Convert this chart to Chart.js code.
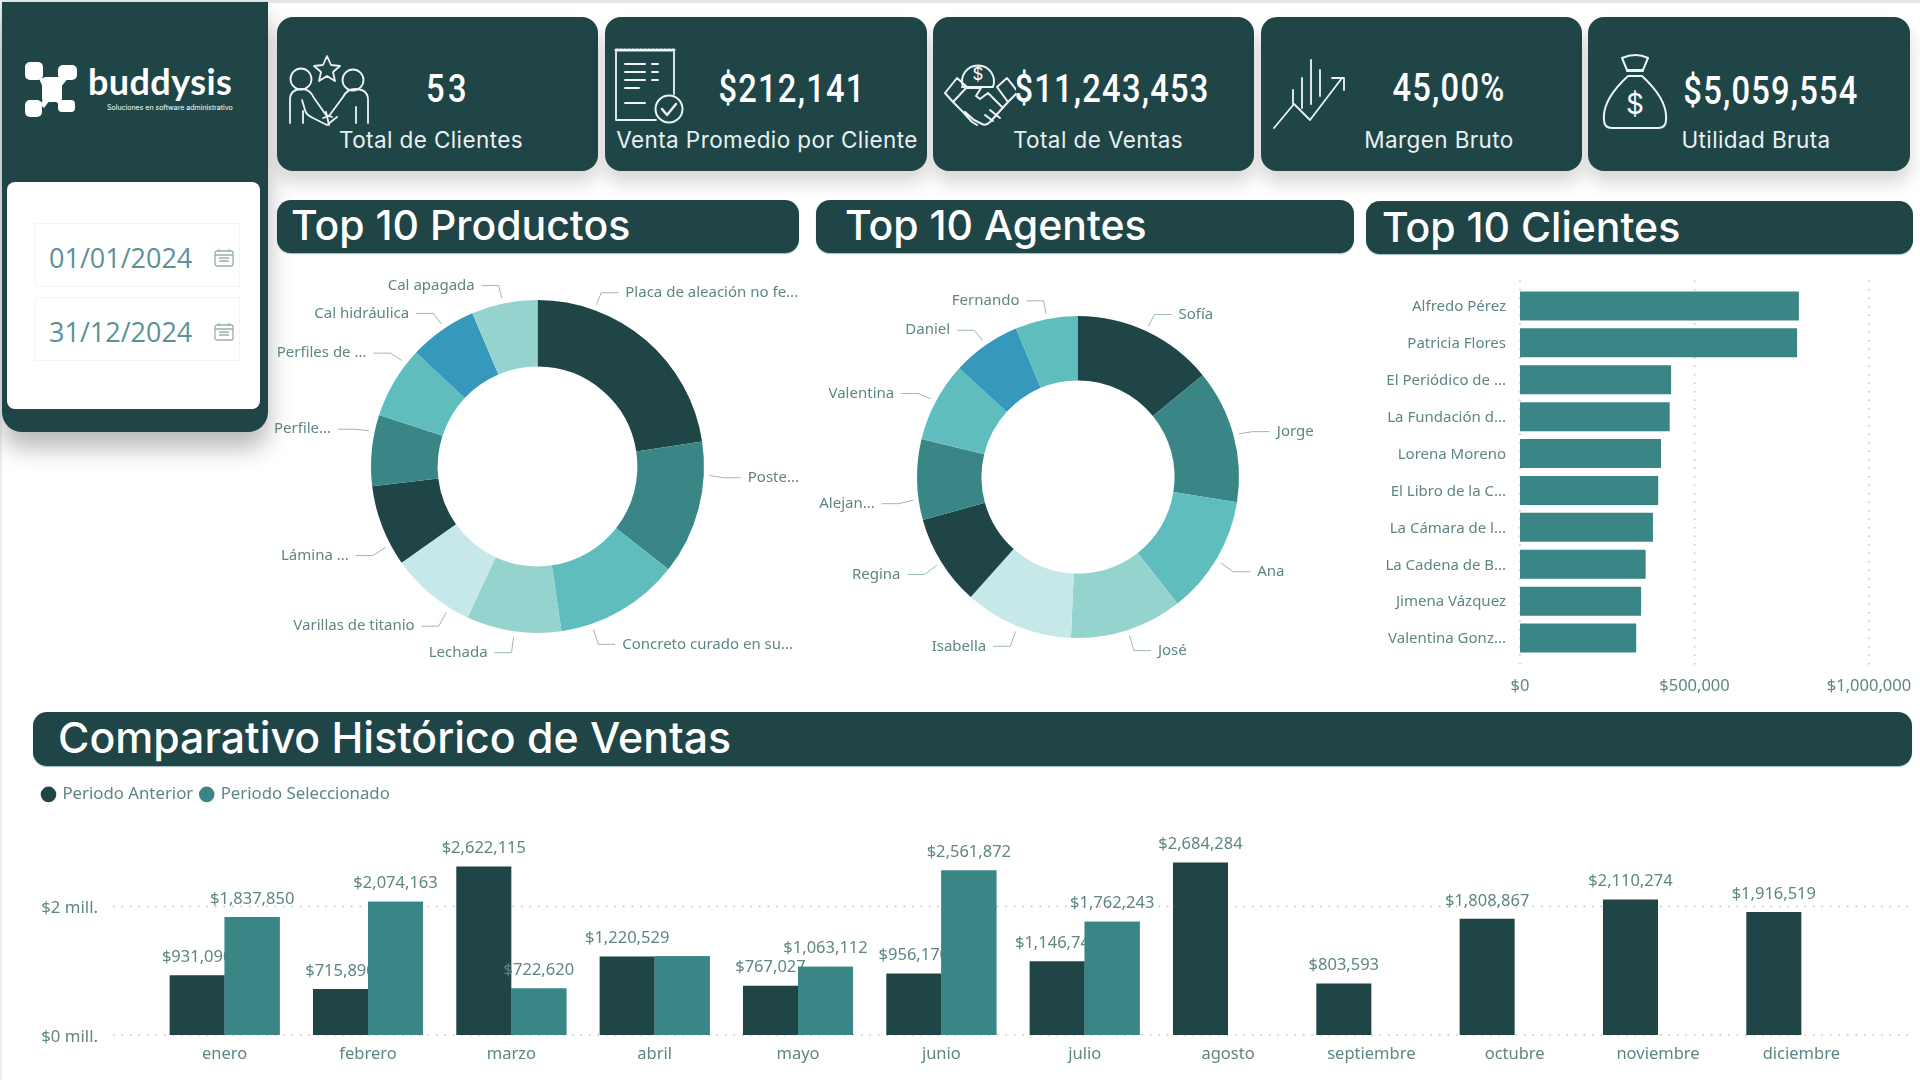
<!DOCTYPE html>
<html lang="es">
<head>
<meta charset="utf-8">
<title>Dashboard de Ventas</title>
<script src="https://cdn.jsdelivr.net/npm/chart.js@4"></script>
<style>
  html, body { margin: 0; padding: 0; background: #fff; }
  body { width: 1920px; height: 1080px; position: relative; overflow: hidden; font-family: "Inter", sans-serif; }
  #topline { position: absolute; left: 0; top: 0; width: 1920px; height: 3px; background: #e4e6e6; }
  #leftline { position: absolute; left: 0; top: 0; width: 2px; height: 1080px; background: #eceeee; }
  #sidebar { position: absolute; left: 2px; top: 2px; width: 266px; height: 430px; background: #1f4547; border-radius: 0 0 20px 20px; box-shadow: 0 16px 24px rgba(0,0,0,.28); }
  #panel { position: absolute; left: 7px; top: 182px; width: 253px; height: 227px; background: #fff; border-radius: 8px; }
  .date { position: absolute; left: 35px; width: 203px; height: 62px; border: 1px solid #f3f4f4; font-family: "Open Sans", sans-serif; font-size: 27px; line-height: 68px; color: #5b9198; text-indent: 13px; }
  .date svg { position: absolute; left: 178px; top: 25px; }
  .card { position: absolute; top: 17px; height: 154px; background: #1f4547; border-radius: 16px; box-shadow: 0 12px 18px rgba(0,0,0,.16); }
  .value, .caption { position: absolute; transform: translate(-50%, -50%); color: #fff; white-space: nowrap; }
  .value { font-family: "Roboto", sans-serif; font-weight: 500; font-size: 38px; letter-spacing: 1.4px; transform: translate(-50%, -50%) scaleX(.86); }
  .caption { font-size: 22.5px; letter-spacing: .4px; color: #e9f0f0; }
  .title { position: absolute; background: #1f4547; border-radius: 14px; color: #fff; font-size: 41px; font-weight: 500; line-height: 51px; padding-left: 14px; box-sizing: border-box; box-shadow: 0 1px 1px rgba(60,120,120,.5); white-space: nowrap; }
  .icon { position: absolute; fill: none; stroke: #eef4f4; stroke-width: 1.8; stroke-linecap: round; stroke-linejoin: round; }
  canvas { position: absolute; }
</style>
</head>
<body>
<div id="topline"></div><div id="leftline"></div>

<div id="sidebar"></div>
<svg style="position:absolute;left:20px;top:55px" width="225" height="70" viewBox="20 55 225 70">
  <g fill="#fff">
    <rect x="25" y="62" width="18" height="18" rx="5"/><rect x="58" y="65" width="19" height="15" rx="5"/>
    <rect x="25" y="100" width="17" height="17" rx="5"/><rect x="58" y="100" width="17" height="12" rx="4"/>
    <rect x="42" y="77" width="20" height="25" rx="4"/>
    <path d="M38 76L46 80 44 90ZM60 78L66 70 70 76 60 88ZM40 104L46 96 50 100 44 108ZM56 98L64 102 62 106 56 102Z"/>
    <text x="88" y="95" font-family="Lato" font-weight="700" font-size="36" letter-spacing="0.4">buddysis</text>
    <text x="107" y="110" font-family="Inter" font-size="7">Soluciones en software administrativo</text>
  </g>
</svg>
<div id="panel"></div>
<div class="date" style="top:223px">01/01/2024<svg width="20" height="18" viewBox="0 0 20 18" fill="none" stroke="#9aacac" stroke-width="1.3"><rect x="1" y="2" width="18" height="15" rx="2"/><path d="M1 6h18M5 0v3M15 0v3M5 9h10M5 12h10" /></svg></div>
<div class="date" style="top:297px">31/12/2024<svg width="20" height="18" viewBox="0 0 20 18" fill="none" stroke="#9aacac" stroke-width="1.3"><rect x="1" y="2" width="18" height="15" rx="2"/><path d="M1 6h18M5 0v3M15 0v3M5 9h10M5 12h10" /></svg></div>

<div class="card" style="left:277px;width:321px"></div>
<div class="card" style="left:605px;width:322px"></div>
<div class="card" style="left:933px;width:321px"></div>
<div class="card" style="left:1261px;width:321px"></div>
<div class="card" style="left:1588px;width:322px"></div>

<svg class="icon" style="left:285px;top:52px" width="85" height="75" viewBox="285 52 85 75">
  <path d="M327 56l4 9 9 1-7 6 2 9-8-5-8 5 2-9-7-6 9-1z"/>
  <circle cx="301" cy="79" r="10.5"/><circle cx="353" cy="80" r="10.5"/>
  <path d="M290 123V100q0-11 12-11 8 0 12 9l12 17 6 2M368 123V100q0-11-13-11-8 0-12 8l-14 19-6 2"/>
  <path d="M302 100l3 10q1 5 8 8l14 7 10-8M303 123v-12M356 123v-16M326 112l3 13"/>
</svg>
<svg class="icon" style="left:612px;top:46px" width="78" height="80" viewBox="612 46 78 80">
  <path d="M616 50h58" stroke-dasharray="2 2" stroke-width="3"/>
  <path d="M616 52v68h40M674 52v42"/>
  <path d="M625 64h20M625 72h20M625 80h20M625 88h14M652 64h6M652 72h6M652 80h6M625 103h20" stroke-width="2"/>
  <circle cx="669" cy="109" r="13.5" stroke-width="2"/><path d="M662 109l5 6 9-11" stroke-width="2.4"/>
</svg>
<svg class="icon" style="left:942px;top:54px" width="74" height="76" viewBox="942 54 74 76">
  <path d="M963 87a16 16 0 1 1 30 0zM968 87h-6" stroke-width="2"/>
  <text x="978" y="80" text-anchor="middle" font-size="17" font-family="Inter" fill="#fff" stroke="none">$</text>
  <path d="M945 93l12-15 10 9-14 15zM1007 78l11 14-10 10-11-15z" stroke-width="2"/>
  <path d="M967 88h14l-5 8 4 3 8-6 14 14M953 102l10 10M1008 102l-18 20q-4 4-8 2l-8-4-9-8M963 112l9 10 5 3M990 110l10 8M985 115l8 6" stroke-width="2"/>
</svg>
<svg class="icon" style="left:1270px;top:55px" width="84" height="78" viewBox="1270 55 84 78" stroke-width="4">
  <path d="M1311 60v44M1302 78v30M1320 70v26M1293 90v14"/>
  <path d="M1274 128l20-24 16 16 32-42M1332 78h12v12"/>
</svg>
<svg class="icon" style="left:1600px;top:52px" width="70" height="80" viewBox="1600 52 70 80">
  <path d="M1622 58q14-6 26 0l-5 12h-16zM1627 71h16M1628 76q-26 24-24 44 0 8 8 8h46q8 0 8-8 2-20-24-44z" stroke-width="2"/>
  <text x="1635" y="114" text-anchor="middle" font-size="28" font-family="Inter" fill="#fff" stroke="none">$</text>
</svg>

<div class="value" style="left:448px;top:89px;letter-spacing:4px">53</div>
<div class="value" style="left:792px;top:89px">$212,141</div>
<div class="value" style="left:1112px;top:89px">$11,243,453</div>
<div class="value" style="left:1449px;top:88px">45,00%</div>
<div class="value" style="left:1771px;top:91px">$5,059,554</div>
<div class="caption" style="left:431px;top:139px">Total de Clientes</div>
<div class="caption" style="left:767px;top:139px">Venta Promedio por Cliente</div>
<div class="caption" style="left:1098px;top:139px">Total de Ventas</div>
<div class="caption" style="left:1439px;top:139px">Margen Bruto</div>
<div class="caption" style="left:1756px;top:139px">Utilidad Bruta</div>

<div class="title" style="left:277px;top:200px;width:522px;height:53px">Top 10 Productos</div>
<div class="title" style="left:816px;top:200px;width:538px;height:53px;padding-left:29px">Top 10 Agentes</div>
<div class="title" style="left:1366px;top:201px;width:547px;height:53px;padding-left:16px;line-height:53px">Top 10 Clientes</div>
<div class="title" style="left:33px;top:712px;width:1879px;height:54px;padding-left:25px;font-size:42.8px">Comparativo Histórico de Ventas</div>

<canvas id="productos" width="561" height="409" style="left:257px;top:262px"></canvas>
<canvas id="agentes" width="524" height="410" style="left:816px;top:272px"></canvas>
<canvas id="clientes" width="554" height="430" style="left:1366px;top:270px"></canvas>
<canvas id="historico" width="1920" height="302" style="left:0;top:778px"></canvas>

<script>
const productos = ['Placa de aleación no fe...', 'Poste...', 'Concreto curado en su...', 'Lechada', 'Varillas de titanio', 'Lámina ...', 'Perfile...', 'Perfiles de ...', 'Cal hidráulica', 'Cal apagada'];
const productosValores = [22.6, 13.0, 12.1, 9.2, 8.3, 7.9, 6.9, 7.0, 6.6, 6.4];
const agentes = ['Sofía', 'Jorge', 'Ana', 'José', 'Isabella', 'Regina', 'Alejan...', 'Valentina', 'Daniel', 'Fernando'];
const agentesValores = [14.1, 13.4, 11.9, 11.3, 10.9, 9.1, 8.1, 8.0, 6.9, 6.3];
const clientes = ['Alfredo Pérez', 'Patricia Flores', 'El Periódico de ...', 'La Fundación d...', 'Lorena Moreno', 'El Libro de la C...', 'La Cámara de l...', 'La Cadena de B...', 'Jimena Vázquez', 'Valentina Gonz...'];
const clientesValores = [799000, 794000, 433000, 429000, 404000, 396000, 381000, 360000, 347000, 333000];
const clientesEje = [0, 500000, 1000000];
const meses = ['enero', 'febrero', 'marzo', 'abril', 'mayo', 'junio', 'julio', 'agosto', 'septiembre', 'octubre', 'noviembre', 'diciembre'];
const periodoAnterior = [931090, 715890, 2622115, 1220529, 767027, 956170, 1146740, 2684284, 803593, 1808867, 2110274, 1916519];
const periodoSeleccionado = [1837850, 2074163, 722620, 1225000, 1063112, 2561872, 1762243, null, null, null, null, null];
const historicoEje = [0, 2000000];
const sinEtiqueta = ['abril'];

// where the leader line leaves each slice, degrees clockwise from the top
const productosGuias = [20, 93, 161, 188, 212, 242, 282, 308, 326, 348];
const agentesGuias = [25, 75, 121, 162, 202, 238, 262, 298, 325, 349];

const OSCURO = '#1f4547';
const TEAL = '#3a8686';
const TEXTO = '#5f8585';
const coloresProductos = [OSCURO, TEAL, '#5fbdbd', '#95d3cf', '#c7e8e8', OSCURO, TEAL, '#5fbdbd', '#3698ba', '#95d3cf'];
const coloresAgentes = [OSCURO, TEAL, '#5fbdbd', '#95d3cf', '#c7e8e8', OSCURO, TEAL, '#5fbdbd', '#3698ba', '#5fbdbd'];

Chart.defaults.font.family = '"Noto Sans", sans-serif';
Chart.defaults.font.size = 15;
Chart.defaults.color = TEXTO;
Chart.defaults.animation = false;

const money = v => '$' + Math.round(v).toLocaleString('en-US');

// fixed axis box, without the extra room chart.js keeps for overhanging tick labels
const fitBox = (prop, size) => s => {
  s[prop] = size;
  s.paddingTop = s.paddingBottom = s.paddingLeft = s.paddingRight = 0;
};

const leaderLabels = {
  id: 'leaderLabels',
  afterDatasetsDraw(chart, args, opts) {
    const ctx = chart.ctx;
    const arcs = chart.getDatasetMeta(0).data;
    ctx.save();
    ctx.font = '15px "Noto Sans"';
    ctx.textBaseline = 'middle';
    arcs.forEach((arc, i) => {
      const a = opts.angles[i] * Math.PI / 180;
      const r = arc.outerRadius;
      const sx = arc.x + Math.sin(a) * (r + 5.5), sy = arc.y - Math.cos(a) * (r + 5.5);
      const ex = arc.x + Math.sin(a) * (r + 20), ey = arc.y - Math.cos(a) * (r + 20) + 1.5;
      const dir = ex >= arc.x ? 1 : -1;
      ctx.strokeStyle = '#9fb6b6';
      ctx.lineWidth = 1;
      ctx.beginPath();
      ctx.moveTo(sx, sy);
      ctx.lineTo(ex, ey);
      ctx.lineTo(ex + dir * 17, ey);
      ctx.stroke();
      ctx.fillStyle = TEXTO;
      ctx.textAlign = dir > 0 ? 'left' : 'right';
      ctx.fillText(chart.data.labels[i], ex + dir * 24, ey);
    });
    ctx.restore();
  }
};

const dottedGrid = {
  id: 'dottedGrid',
  beforeDatasetsDraw(chart, args, opts) {
    const ctx = chart.ctx;
    const area = chart.chartArea;
    const scale = chart.scales[opts.axis];
    ctx.save();
    ctx.strokeStyle = '#b9c2c2';
    ctx.lineWidth = 1.5;
    ctx.setLineDash([1.5, 7]);
    scale.ticks.forEach(t => {
      const p = scale.getPixelForValue(t.value);
      ctx.beginPath();
      if (opts.axis === 'x') {
        ctx.moveTo(p, area.top - opts.before);
        ctx.lineTo(p, area.bottom + opts.after);
      } else {
        ctx.moveTo(area.left - opts.before, p);
        ctx.lineTo(area.right + opts.after, p);
      }
      ctx.stroke();
    });
    ctx.restore();
  }
};

// the previous period's labels sit under the selected bars, like in the original
const barLabels = {
  id: 'barLabels',
  afterDatasetsDraw(chart) {
    const ctx = chart.ctx;
    const draw = (meta, values) => {
      ctx.save();
      ctx.font = '16.5px "Noto Sans"';
      ctx.fillStyle = TEXTO;
      ctx.textAlign = 'center';
      ctx.textBaseline = 'middle';
      meta.data.forEach((bar, i) => {
        if (values[i] === null || (values === periodoSeleccionado && sinEtiqueta.includes(meses[i]))) return;
        ctx.fillText(money(values[i]), bar.x, bar.y - 18);
      });
      ctx.restore();
    };
    const sel = chart.getDatasetMeta(1);
    draw(chart.getDatasetMeta(0), periodoAnterior);
    sel.controller.draw();
    draw(sel, periodoSeleccionado);
  }
};

function donut(id, labels, values, colors, angles, padding) {
  new Chart(document.getElementById(id), {
    type: 'doughnut',
    data: { labels, datasets: [{ data: values, backgroundColor: colors, borderWidth: 0 }] },
    options: {
      responsive: false,
      cutout: '60%',
      layout: { padding },
      plugins: { legend: { display: false }, tooltip: { enabled: false }, leaderLabels: { angles } }
    },
    plugins: [leaderLabels]
  });
}

donut('productos', productos, productosValores, coloresProductos, productosGuias, 38);
donut('agentes', agentes, agentesValores, coloresAgentes, agentesGuias, 44);

new Chart(document.getElementById('clientes'), {
  type: 'bar',
  data: {
    labels: clientes,
    datasets: [{ data: clientesValores, backgroundColor: TEAL, categoryPercentage: 0.785, barPercentage: 1 }]
  },
  options: {
    indexAxis: 'y',
    responsive: false,
    layout: { padding: { top: 17.5, right: 51 } },
    plugins: { legend: { display: false }, tooltip: { enabled: false }, dottedGrid: { axis: 'x', before: 7, after: 8 } },
    scales: {
      x: {
        min: 0,
        max: 1000000,
        grid: { display: false },
        border: { display: false },
        afterFit: fitBox('height', 43.5),
        afterBuildTicks: s => { s.ticks = clientesEje.map(value => ({ value })); },
        ticks: { maxRotation: 0, padding: 11.5, font: { size: 16.5 }, callback: v => money(v) }
      },
      y: {
        grid: { display: false },
        border: { display: false },
        afterFit: fitBox('width', 154),
        ticks: { autoSkip: false, padding: 6, labelOffset: 1, font: { size: 15 } }
      }
    }
  },
  plugins: [dottedGrid]
});

new Chart(document.getElementById('historico'), {
  type: 'bar',
  data: {
    labels: meses,
    datasets: [
      { label: 'Periodo Anterior', data: periodoAnterior, backgroundColor: OSCURO, categoryPercentage: 0.768, barPercentage: 1 },
      { label: 'Periodo Seleccionado', data: periodoSeleccionado, backgroundColor: TEAL, categoryPercentage: 0.768, barPercentage: 1 }
    ]
  },
  options: {
    responsive: false,
    layout: { padding: { left: 35, right: 47 } },
    plugins: {
      tooltip: { enabled: false },
      legend: {
        position: 'top',
        align: 'start',
        labels: { usePointStyle: true, pointStyle: 'circle', boxWidth: 11, boxHeight: 11, padding: 8, color: TEXTO, font: { size: 16.8 } }
      },
      dottedGrid: { axis: 'y', before: 40, after: 40 }
    },
    scales: {
      x: {
        grid: { display: false },
        border: { display: false },
        afterFit: fitBox('height', 45),
        ticks: { padding: 1, maxRotation: 0, autoSkip: false, font: { size: 16.5 } }
      },
      y: {
        min: 0,
        max: 3459000,
        grid: { display: false },
        border: { display: false },
        afterFit: fitBox('width', 118),
        afterBuildTicks: s => { s.ticks = historicoEje.map(value => ({ value })); },
        ticks: { padding: 47, labelOffset: 2, font: { size: 16.8 }, callback: v => '$' + (v / 1000000) + ' mill.' }
      }
    }
  },
  plugins: [dottedGrid, barLabels]
});
</script>
</body>
</html>
